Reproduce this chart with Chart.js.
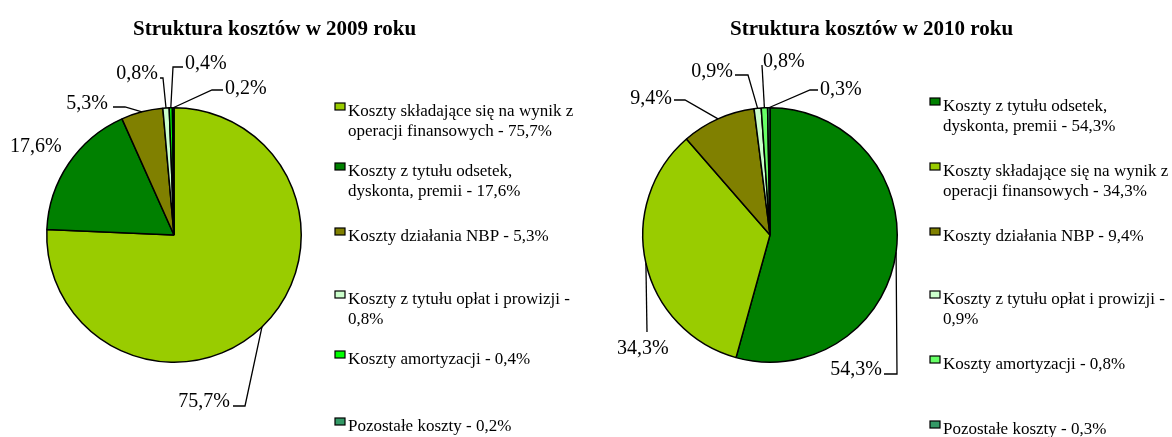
<!DOCTYPE html>
<html>
<head>
<meta charset="utf-8">
<script src="https://cdn.jsdelivr.net/npm/chart.js@4.4.1/dist/chart.umd.min.js"></script>
<style>
    html, body { margin: 0; padding: 0; background: #fff; }
    #wrap { position: relative; width: 1172px; height: 437px; }
    canvas { position: absolute; top: 0; }
</style>
</head>
<body>
<div id="wrap">
    <canvas id="c2009" width="586" height="437" style="left:0"></canvas>
    <canvas id="c2010" width="586" height="437" style="left:586px"></canvas>
</div>
<script>
// Data
const CATEGORIES_2009 = [
    'Koszty składające się na wynik z operacji finansowych',
    'Koszty z tytułu odsetek, dyskonta, premii',
    'Koszty działania NBP',
    'Koszty z tytułu opłat i prowizji',
    'Koszty amortyzacji',
    'Pozostałe koszty',
];
const VALUES_2009 = [75.7, 17.6, 5.3, 0.8, 0.4, 0.2];
const COLORS_2009 = ['#99cc00', '#008000', '#808000', '#ccffcc', '#00ff00', '#339966'];

const CATEGORIES_2010 = [
    'Koszty z tytułu odsetek, dyskonta, premii',
    'Koszty składające się na wynik z operacji finansowych',
    'Koszty działania NBP',
    'Koszty z tytułu opłat i prowizji',
    'Koszty amortyzacji',
    'Pozostałe koszty',
];
const VALUES_2010 = [54.3, 34.3, 9.4, 0.9, 0.8, 0.3];
const COLORS_2010 = ['#008000', '#99cc00', '#808000', '#ccffcc', '#66ff66', '#339966'];

const SERIF = '"Liberation Serif", "Times New Roman", serif';

// Layout (positions relative to the pie centre for data labels)
const LAYOUT_2009 = {
    title: 'Struktura kosztów w 2009 roku',
    titleX: 133, titleY: 28,
    center: [174, 235], radius: 128,
    legendX: 335, legendRows: [110, 170, 235, 298, 358, 425],
    labels: [
        { dx: 56, dy: 165, align: 'right', leader: [[71, 171], [59, 171]] },
        { dx: -164, dy: -90, align: 'left', leader: null },
        { dx: -66, dy: -133, align: 'right', leader: [[-49, -128], [-61, -128]] },
        { dx: -16, dy: -163, align: 'right', leader: [[-11, -157], [-14, -157]] },
        { dx: 11, dy: -173, align: 'left', leader: [[-1, -168], [9, -168]] },
        { dx: 51, dy: -148, align: 'left', leader: [[38, -145], [49, -145]] },
    ],
};

const LAYOUT_2010 = {
    title: 'Struktura kosztów w 2010 roku',
    titleX: 144, titleY: 28,
    center: [184, 235], radius: 128,
    legendX: 344, legendRows: [105, 170, 235, 298, 363, 428],
    labels: [
        { dx: 112, dy: 133, align: 'right', leader: [[127, 139], [114, 139]] },
        { dx: -153, dy: 112, align: 'left', leader: [[-123, 97]] },
        { dx: -98, dy: -138, align: 'right', leader: [[-85, -135], [-96, -135]] },
        { dx: -37, dy: -165, align: 'right', leader: [[-22, -160], [-35, -160]] },
        { dx: -7, dy: -175, align: 'left', leader: [[-8, -170]] },
        { dx: 50, dy: -147, align: 'left', leader: [[40, -145], [48, -145]] },
    ],
};

function fmt(v) {
    return v.toFixed(1).replace('.', ',') + '%';
}

function wrapText(ctx, text, maxWidth) {
    const words = text.split(' ');
    const lines = [];
    let line = '';
    words.forEach(w => {
        const test = line ? line + ' ' + w : w;
        if (line && ctx.measureText(test).width > maxWidth) {
            lines.push(line);
            line = w;
        } else {
            line = test;
        }
    });
    if (line) lines.push(line);
    return lines;
}

// Title, outside labels with leader lines and the legend
const pieDecor = {
    id: 'pieDecor',
    afterDraw(chart, args, opts) {
        const ctx = chart.ctx;
        const ds = chart.data.datasets[0];
        const arcs = chart.getDatasetMeta(0).data;
        ctx.save();
        ctx.fillStyle = '#000';
        ctx.textBaseline = 'alphabetic';

        ctx.font = 'bold 21px ' + SERIF;
        ctx.textAlign = 'left';
        ctx.fillText(opts.title, opts.titleX, opts.titleY + 7);

        ctx.font = '20px ' + SERIF;
        ctx.strokeStyle = '#000';
        ctx.lineWidth = 1.3;
        arcs.forEach((arc, i) => {
            const L = opts.labels[i];
            const mid = (arc.startAngle + arc.endAngle) / 2;
            const ax = arc.x + arc.outerRadius * Math.cos(mid);
            const ay = arc.y + arc.outerRadius * Math.sin(mid);
            if (L.leader) {
                ctx.beginPath();
                ctx.moveTo(ax, ay);
                L.leader.forEach(p => ctx.lineTo(arc.x + p[0], arc.y + p[1]));
                ctx.stroke();
            }
            ctx.textAlign = L.align;
            ctx.fillText(fmt(ds.data[i]), arc.x + L.dx, arc.y + L.dy + 7);
        });

        ctx.font = '17px ' + SERIF;
        ctx.textAlign = 'left';
        ctx.lineWidth = 1.2;
        chart.data.labels.forEach((label, i) => {
            const y = opts.legendRows[i];
            ctx.fillStyle = ds.backgroundColor[i];
            ctx.fillRect(opts.legendX, y - 7, 10, 7);
            ctx.strokeRect(opts.legendX, y - 7, 10, 7);
            ctx.fillStyle = '#000';
            const lines = wrapText(ctx, label + ' - ' + fmt(ds.data[i]), 232);
            lines.forEach((ln, k) => {
                ctx.fillText(ln, opts.legendX + 13, y + 6 + k * 20);
            });
        });
        ctx.restore();
    },
};

function makePie(id, labels, values, colors, layout) {
    const canvas = document.getElementById(id);
    const [cx, cy] = layout.center;
    const r = layout.radius;
    return new Chart(canvas, {
        type: 'pie',
        data: {
            labels,
            datasets: [{
                data: values,
                backgroundColor: colors,
                borderColor: '#000',
                borderWidth: 1.5,
            }],
        },
        options: {
            responsive: false,
            animation: false,
            devicePixelRatio: 1,
            layout: {
                padding: {
                    left: cx - r,
                    top: cy - r,
                    right: canvas.width - cx - r,
                    bottom: canvas.height - cy - r,
                },
            },
            plugins: {
                legend: { display: false },
                tooltip: { enabled: false },
                title: { display: false },
                pieDecor: layout,
            },
        },
        plugins: [pieDecor],
    });
}

makePie('c2009', CATEGORIES_2009, VALUES_2009, COLORS_2009, LAYOUT_2009);
makePie('c2010', CATEGORIES_2010, VALUES_2010, COLORS_2010, LAYOUT_2010);
</script>
</body>
</html>
